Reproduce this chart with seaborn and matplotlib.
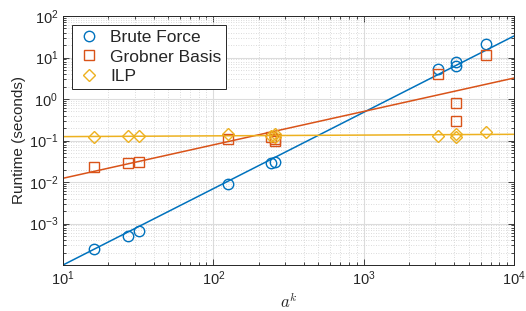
import numpy as np
import pandas as pd
import matplotlib
matplotlib.use("Agg")
import matplotlib.pyplot as plt
import seaborn as sns
from matplotlib.ticker import LogLocator, NullFormatter

# ---- data ----
bf_x = [16, 27, 32, 125, 243, 256, 3125, 4096, 4096, 6561]
bf_y = [2.4e-4, 4.9e-4, 6.6e-4, 8.8e-3, 0.028, 0.030, 5.3, 7.9, 6.4, 20.8]

gb_x = [16, 27, 32, 125, 243, 256, 256, 3125, 4096, 4096, 6561]
gb_y = [0.0226, 0.028, 0.030, 0.107, 0.12, 0.10, 0.11, 4.0, 0.79, 0.295, 11.5]

ilp_x = [16, 27, 32, 125, 243, 256, 256, 3125, 4096, 4096, 6561]
ilp_y = [0.121, 0.125, 0.126, 0.14, 0.13, 0.12, 0.14, 0.13, 0.14, 0.12, 0.16]

fit_x = [10, 1e4]
fit_bf = [1.0e-4, 33.0]
fit_gb = [0.0123, 3.2]
fit_ilp = [0.124, 0.141]

series_names = ["Brute Force", "Grobner Basis", "ILP"]
colors = ["#0072BD", "#D95319", "#EDB120"]
markers = ["o", "s", "D"]

x_ticks = [1e1, 1e2, 1e3, 1e4]
y_ticks = [1e-3, 1e-2, 1e-1, 1e0, 1e1, 1e2]

# ---- build frames ----
pts = pd.concat([
    pd.DataFrame({"x": bf_x, "y": bf_y, "series": series_names[0]}),
    pd.DataFrame({"x": gb_x, "y": gb_y, "series": series_names[1]}),
    pd.DataFrame({"x": ilp_x, "y": ilp_y, "series": series_names[2]}),
], ignore_index=True)
fits = pd.concat([
    pd.DataFrame({"x": fit_x, "y": fit_bf, "series": series_names[0]}),
    pd.DataFrame({"x": fit_x, "y": fit_gb, "series": series_names[1]}),
    pd.DataFrame({"x": fit_x, "y": fit_ilp, "series": series_names[2]}),
], ignore_index=True)

sns.set_style("ticks")
plt.rcParams["font.family"] = ["Liberation Sans", "DejaVu Sans"]
plt.rcParams["mathtext.fontset"] = "cm"

fig = plt.figure(figsize=(5.26, 3.11), dpi=100)
ax = fig.add_axes([63/526, 46/311, 451/526, 249/311])
ax.set_xscale("log")
ax.set_yscale("log")

for name, col, mk in zip(series_names, colors, markers):
    d = fits[fits.series == name]
    sns.lineplot(data=d, x="x", y="y", ax=ax, color=col, lw=1.1, legend=False, zorder=2)
for name, col, mk in zip(series_names, colors, markers):
    d = pts[pts.series == name]
    ms = 7.5 if mk == "o" else (6.8 if mk == "s" else 6.5)
    ax.plot(d["x"], d["y"], linestyle="none", marker=mk, markersize=ms,
            markerfacecolor="none", markeredgecolor=col, markeredgewidth=1.0,
            label=name, zorder=3)

ax.set_xlim(10, 1e4)
ax.set_ylim(1e-4, 1e2)
ax.set_xticks(x_ticks)
ax.set_yticks(y_ticks)
ax.xaxis.set_minor_locator(LogLocator(base=10, subs=np.arange(2, 10), numticks=20))
ax.yaxis.set_minor_locator(LogLocator(base=10, subs=np.arange(2, 10), numticks=20))
ax.xaxis.set_minor_formatter(NullFormatter())
ax.yaxis.set_minor_formatter(NullFormatter())

ax.grid(True, which="major", color="#dcdcdc", lw=0.8, ls="-", zorder=0)
ax.grid(True, which="minor", color="#cfcfcf", lw=0.6, ls=(0, (1, 2)), zorder=0)
ax.set_axisbelow(True)

ax.tick_params(which="both", direction="in", top=True, right=True,
               colors="#262626", labelsize=10.5, width=0.6)
ax.tick_params(which="major", length=4)
ax.tick_params(which="minor", length=2)
for s in ax.spines.values():
    s.set_color("#262626")
    s.set_linewidth(0.7)

ax.set_xlabel("$a^k$", fontsize=12, color="#262626", labelpad=2)
ax.set_ylabel("Runtime (seconds)", fontsize=11, color="#262626", labelpad=2)

leg = ax.legend(loc="upper left", fontsize=12.5, frameon=True, fancybox=False,
                borderpad=0.3, handletextpad=0.5, labelspacing=0.25,
                borderaxespad=0.5, handlelength=1.4)
leg.get_frame().set_edgecolor("#262626")
leg.get_frame().set_linewidth(0.7)
leg.get_frame().set_alpha(1)

fig.savefig("out.png", dpi=100)
